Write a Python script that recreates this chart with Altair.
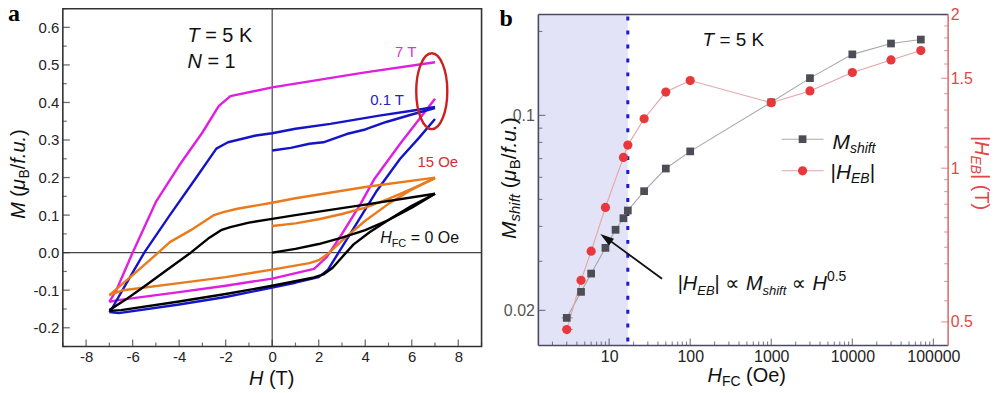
import altair as alt
import pandas as pd

# ================= data: panel a (M-H hysteresis loops) =================
H_7T_down = [7, 4, 0, -1.8, -2.3, -3, -4, -5, -6, -6.7, -7]
M_7T_down = [0.507, 0.48, 0.44, 0.417, 0.39, 0.32, 0.232, 0.135, 0.0, -0.1, -0.131]
H_7T_up = [-7, -6.7, -4, -2, 0, 1.8, 2.35, 3.0, 3.8, 4.4, 5.5, 7]
M_7T_up = [-0.131, -0.127, -0.105, -0.088, -0.069, -0.043, -0.011, 0.05, 0.13, 0.197, 0.29, 0.41]

H_01T_virgin = [0, 0.8, 1.6, 2.2, 3.2, 4.0, 4.9, 6.0, 7.0]
M_01T_virgin = [0.272, 0.279, 0.29, 0.294, 0.316, 0.328, 0.348, 0.368, 0.385]
H_01T_down = [7, 6, 4.6, 2.5, 1, 0, -0.7, -1.9, -2.4, -3.3, -4.4, -5.5, -6.3, -6.9, -7]
M_01T_down = [0.388, 0.378, 0.365, 0.343, 0.33, 0.318, 0.312, 0.294, 0.277, 0.197, 0.1, 0.0, -0.085, -0.15, -0.158]
H_01T_up = [-7, -6.6, -4, -2, 0, 1, 2, 2.4, 2.8, 3.5, 4.5, 5.5, 6.3, 7]
M_01T_up = [-0.158, -0.161, -0.138, -0.118, -0.093, -0.08, -0.065, -0.045, -0.005, 0.065, 0.165, 0.25, 0.305, 0.356]

H_15Oe_virgin = [0, 1, 2, 3, 4, 5, 6, 7]
M_15Oe_virgin = [0.071, 0.078, 0.089, 0.103, 0.12, 0.143, 0.17, 0.198]
H_15Oe_down = [7, 4, 1, 0, -1.5, -2.1, -2.5, -3.5, -4.4, -4.9, -6, -7]
M_15Oe_down = [0.2, 0.175, 0.145, 0.133, 0.117, 0.108, 0.1, 0.06, 0.028, 0.0, -0.06, -0.113]
H_15Oe_up = [-7, -6.4, -4, -2, 0, 1.6, 2.0, 2.4, 3, 4, 5, 6, 7]
M_15Oe_up = [-0.113, -0.1, -0.081, -0.065, -0.045, -0.028, -0.02, -0.003, 0.032, 0.085, 0.13, 0.168, 0.2]

H_0Oe_virgin = [0, 1, 2, 3, 4, 5, 6, 7]
M_0Oe_virgin = [0.0, 0.01, 0.023, 0.04, 0.06, 0.087, 0.12, 0.157]
H_0Oe_down = [7, 4, 1, 0, -1, -1.8, -2.2, -2.7, -3.5, -4.5, -5.5, -6.3, -7]
M_0Oe_down = [0.157, 0.128, 0.1, 0.09, 0.08, 0.068, 0.06, 0.04, 0.0, -0.045, -0.09, -0.125, -0.153]
H_0Oe_up = [-7, -6.5, -4, -2, 0, 1.8, 2.2, 2.6, 3.0, 3.5, 4.2, 5.2, 6, 7]
M_0Oe_up = [-0.155, -0.153, -0.13, -0.11, -0.088, -0.066, -0.058, -0.04, -0.012, 0.022, 0.055, 0.095, 0.125, 0.157]

ELLIPSE_H = [6.86]
ELLIPSE_M = [0.43]

A_XTICKS = [-8, -6, -4, -2, 0, 2, 4, 6, 8]
A_XMINOR = [-9, -7, -5, -3, -1, 1, 3, 5, 7, 9]
A_YTICKS = [-0.2, -0.1, 0.0, 0.1, 0.2, 0.3, 0.4, 0.5, 0.6]
A_YMINOR = [-0.25, -0.15, -0.05, 0.05, 0.15, 0.25, 0.35, 0.45, 0.55, 0.65]

# ================= data: panel b =================
HFC_M = [3, 4.5, 6, 9, 12, 15, 17, 27, 50, 100, 1000, 3000, 10000, 30000, 70000]
M_SHIFT = [0.0188, 0.0233, 0.0271, 0.0335, 0.0389, 0.0428, 0.0456, 0.0535, 0.0645,
           0.0743, 0.1114, 0.136, 0.1655, 0.181, 0.187]
HFC_E = [3, 4.5, 6, 9, 15, 17, 27, 50, 100, 1000, 3000, 10000, 30000, 70000]
H_EB = [0.483, 0.603, 0.688, 0.838, 1.05, 1.11, 1.25, 1.41, 1.485, 1.344, 1.417, 1.54, 1.63, 1.70]
ERR_LO = [2.6]
ERR_HI = [3.55]
SHADE_LO = [1.34]
SHADE_HI = [17]

B_XTICKS = [10, 100, 1000, 10000, 100000]
B_XMINOR = [m * 10 ** e for e in range(0, 5) for m in range(2, 10)]
B_LTICKS = [0.02, 0.1]
B_LMINOR = [0.03, 0.04, 0.05, 0.06, 0.07, 0.08, 0.09, 0.2]
B_RTICKS = [0.5, 1.0, 1.5, 2.0]
B_RMINOR = [0.55, 0.6, 0.65, 0.7, 0.75, 0.8, 0.85, 0.9, 0.95, 1.1, 1.2, 1.3, 1.4, 1.6, 1.7, 1.8, 1.9]

# ================= styling helpers =================
FONT = "Liberation Sans, Arial, DejaVu Sans, sans-serif"
SERIF = "Liberation Serif, Times New Roman, serif"
DUMMY = pd.DataFrame({"d": [0]})
WIDTHS = {" ": 278, "(": 333, ")": 333, ".": 278, "/": 278, "=": 584, "|": 260,
          "B": 667, "C": 722, "E": 667, "F": 611, "H": 722, "K": 667, "M": 833,
          "N": 722, "O": 778, "T": 611, "e": 556, "f": 278, "h": 556, "i": 222,
          "s": 500, "t": 278, "u": 556, "\u03bc": 576, "\u221d": 760}


def tw(s, size):
    return sum(WIDTHS.get(c, 556) for c in s) * size / 1000.0


def rich(pieces, x0, y0, angle=0, color="#111111", anchor="start"):
    total = sum(tw(t, s) for t, s, _, _ in pieces)
    pos = -total / 2.0 if anchor == "middle" else 0.0
    out = []
    for t, s, it, sh in pieces:
        lead = len(t) - len(t.lstrip(" "))
        p = pos + lead * tw(" ", s)
        if angle == 0:
            x, y = x0 + p, y0 + sh
        elif angle == 270:
            x, y = x0 + sh, y0 - p
        else:
            x, y = x0 - sh, y0 + p
        out.append(
            alt.Chart(DUMMY).mark_text(
                text=t.strip(), font=FONT, fontSize=s,
                fontStyle="italic" if it else "normal", color=color,
                align="left", baseline="alphabetic", angle=angle,
            ).encode(x=alt.value(x), y=alt.value(y))
        )
        pos += tw(t, s)
    return out


def vals(name, v):
    return pd.DataFrame({name: v})


# ================= panel a =================
WA, HA = 420, 339
FRAME_A = "#333333"
xa = alt.Scale(domain=[-9, 9], nice=False, zero=False)
ya = alt.Scale(domain=[-0.25, 0.65], nice=False, zero=False)

ax_xa = alt.Axis(values=A_XTICKS, ticks=False, domain=False, grid=False, tickSize=0,
                 labelFont=FONT, labelFontSize=15, labelColor="#222222", labelPadding=3,
                 labelExpr="datum.value < 0 ? '-' + format(-datum.value, 'd') : format(datum.value, 'd')")
ax_ya = alt.Axis(values=A_YTICKS, ticks=False, domain=False, grid=False, tickSize=0,
                 labelFont=FONT, labelFontSize=15, labelColor="#222222", labelPadding=4,
                 labelExpr="datum.value < -0.0001 ? '-' + format(-datum.value, '.1f') : format(abs(datum.value), '.1f')")


def loop_layer(H, M, color):
    df = pd.DataFrame({"H": H, "M": M, "i": list(range(len(H)))})
    return alt.Chart(df).mark_line(color=color, strokeWidth=2.4, strokeJoin="round").encode(
        x=alt.X("H:Q", scale=xa, axis=None),
        y=alt.Y("M:Q", scale=ya, axis=None),
        order="i:Q",
    )


MAG, BLU, ORA, BLK = "#e01ee0", "#1414c8", "#ea7a1c", "#000000"

a_layers = [
    # zero lines, which also carry the axis labels
    alt.Chart(vals("z", [0])).mark_rule(color="#444444", strokeWidth=1.2).encode(
        x=alt.X("z:Q", scale=xa, axis=ax_xa, title=None)),
    alt.Chart(vals("z", [0])).mark_rule(color="#444444", strokeWidth=1.2).encode(
        y=alt.Y("z:Q", scale=ya, axis=ax_ya, title=None)),
    loop_layer(H_7T_down, M_7T_down, MAG),
    loop_layer(H_7T_up, M_7T_up, MAG),
    loop_layer(H_01T_virgin, M_01T_virgin, BLU),
    loop_layer(H_01T_down, M_01T_down, BLU),
    loop_layer(H_01T_up, M_01T_up, BLU),
    loop_layer(H_15Oe_virgin, M_15Oe_virgin, ORA),
    loop_layer(H_15Oe_down, M_15Oe_down, ORA),
    loop_layer(H_15Oe_up, M_15Oe_up, ORA),
    loop_layer(H_0Oe_virgin, M_0Oe_virgin, BLK),
    loop_layer(H_0Oe_down, M_0Oe_down, BLK),
    loop_layer(H_0Oe_up, M_0Oe_up, BLK),
    alt.Chart(pd.DataFrame({"H": ELLIPSE_H, "M": ELLIPSE_M})).mark_point(
        shape="M -0.41 0 A 0.41 1 0 1 0 0.41 0 A 0.41 1 0 1 0 -0.41 0 Z",
        size=5776, filled=False, color="#cc1f1f", strokeWidth=2.4, opacity=1,
    ).encode(x=alt.X("H:Q", scale=xa, axis=None), y=alt.Y("M:Q", scale=ya, axis=None)),
    # ticks (inward)
    alt.Chart(vals("v", A_YTICKS)).mark_tick(orient="horizontal", size=7, thickness=1.3, color=FRAME_A).encode(
        y=alt.Y("v:Q", scale=ya, axis=None), x=alt.value(3.5)),
    alt.Chart(vals("v", A_YMINOR)).mark_tick(orient="horizontal", size=4, thickness=1.2, color=FRAME_A).encode(
        y=alt.Y("v:Q", scale=ya, axis=None), x=alt.value(2)),
    alt.Chart(vals("v", A_XTICKS)).mark_tick(orient="vertical", size=7, thickness=1.3, color=FRAME_A).encode(
        x=alt.X("v:Q", scale=xa, axis=None), y=alt.value(HA - 3.5)),
    alt.Chart(vals("v", A_XMINOR)).mark_tick(orient="vertical", size=4, thickness=1.2, color=FRAME_A).encode(
        x=alt.X("v:Q", scale=xa, axis=None), y=alt.value(HA - 2)),
    # frame
    alt.Chart(DUMMY).mark_rect(filled=False, stroke=FRAME_A, strokeWidth=1.6).encode(
        x=alt.value(0), x2=alt.value(WA), y=alt.value(0), y2=alt.value(HA)),
    # panel label
    alt.Chart(DUMMY).mark_text(text="a", font=SERIF, fontSize=24, fontWeight="bold", color="#000000",
                               align="left", baseline="alphabetic").encode(x=alt.value(-55), y=alt.value(12)),
]
a_layers += rich([("T", 20, True, 0), (" = 5 K", 20, False, 0)], 125, 33.7)
a_layers += rich([("N", 20, True, 0), (" = 1", 20, False, 0)], 125, 59.3)
a_layers += rich([("7 T", 15, False, 0)], 333.3, 48.3, color="#dd33dd")
a_layers += rich([("0.1 T", 15, False, 0)], 308.3, 96.3, color="#2424b8")
a_layers += rich([("15 Oe", 15, False, 0)], 355.7, 159.3, color="#cc3333")
a_layers += rich([("H", 16, True, 0), ("FC", 11, False, 4), (" = 0 Oe", 16, False, 0)], 318.3, 235.3)
a_layers += rich([("H", 20, True, 0), (" (T)", 20, False, 0)], 186.7, 377.7)
a_layers += rich([("M", 20, True, 0), (" (", 20, False, 0), ("\u03bc", 20, True, 0), ("B", 14, False, 4),
                  ("/", 20, False, 0), ("f.u.", 20, True, 0), (")", 20, False, 0)],
                 -38, 166, angle=270, anchor="middle")

panel_a = alt.layer(*a_layers).properties(width=WA, height=HA).resolve_axis(x="independent", y="independent")

# ================= panel b =================
WB, HB = 411, 338
TOP = 6  # frame top inside the plot area
FRAME_B = "#4a4a66"
RED_AX = "#e07070"
xb = alt.Scale(type="log", domain=[1.34, 152000], nice=False)
yl = alt.Scale(type="log", domain=[0.01496, 0.2415], nice=False)
yr = alt.Scale(type="log", domain=[0.4494, 2.0546], nice=False)

ax_xb = alt.Axis(values=B_XTICKS, ticks=False, domain=False, grid=False, tickSize=0,
                 labelFont=FONT, labelFontSize=16, labelColor="#222222", labelPadding=3,
                 labelExpr="format(datum.value, 'd')")
ax_yl = alt.Axis(values=B_LTICKS, ticks=False, domain=False, grid=False, tickSize=0,
                 labelFont=FONT, labelFontSize=16, labelColor="#555555", labelPadding=4,
                 labelExpr="format(datum.value, '~g')")
ax_yr = alt.Axis(values=B_RTICKS, orient="right", ticks=False, domain=False, grid=False, tickSize=0,
                 labelFont=FONT, labelFontSize=16, labelColor="#e04848", labelPadding=2,
                 labelExpr="format(datum.value, '~g')")

dfm = pd.DataFrame({"H": HFC_M, "M": M_SHIFT})
dfe = pd.DataFrame({"H": HFC_E, "E": H_EB})
df_err_m = pd.DataFrame({"lo": ERR_LO, "hi": ERR_HI, "v": [M_SHIFT[0]]})
df_err_e = pd.DataFrame({"lo": ERR_LO, "hi": ERR_HI, "v": [H_EB[0]]})

b_layers = [
    alt.Chart(pd.DataFrame({"lo": SHADE_LO, "hi": SHADE_HI})).mark_rect(color="#e3e3f7").encode(
        x=alt.X("lo:Q", scale=xb, axis=ax_xb, title=None), x2="hi:Q", y=alt.value(TOP), y2=alt.value(HB)),
    alt.Chart(pd.DataFrame({"hi": SHADE_HI})).mark_rule(color="#1a1acc", strokeWidth=3, strokeDash=[4, 10]).encode(
        x=alt.X("hi:Q", scale=xb, axis=None), y=alt.value(TOP + 2), y2=alt.value(HB)),
    alt.Chart(df_err_m).mark_rule(color="#8a8a8a", strokeWidth=1).encode(
        x=alt.X("lo:Q", scale=xb, axis=None), x2="hi:Q", y=alt.Y("v:Q", scale=yl, axis=None)),
    alt.Chart(df_err_e).mark_rule(color="#c08080", strokeWidth=1).encode(
        x=alt.X("lo:Q", scale=xb, axis=None), x2="hi:Q", y=alt.Y("v:Q", scale=yr, axis=None)),
    alt.Chart(dfm).mark_line(color="#a8a8a8", strokeWidth=1.1).encode(
        x=alt.X("H:Q", scale=xb, axis=None),
        y=alt.Y("M:Q", scale=yl, axis=ax_yl, title=None)),
    alt.Chart(dfe).mark_line(color="#e3a4a4", strokeWidth=1.1).encode(
        x=alt.X("H:Q", scale=xb, axis=None),
        y=alt.Y("E:Q", scale=yr, axis=ax_yr, title=None)),
    alt.Chart(dfm).mark_point(shape="square", size=60, filled=True, color="#4d4d55", opacity=1).encode(
        x=alt.X("H:Q", scale=xb, axis=None), y=alt.Y("M:Q", scale=yl, axis=None)),
    alt.Chart(dfe).mark_point(shape="circle", size=85, filled=True, color="#e8383c", opacity=1).encode(
        x=alt.X("H:Q", scale=xb, axis=None), y=alt.Y("E:Q", scale=yr, axis=None)),
    # ticks
    alt.Chart(vals("v", B_XTICKS)).mark_tick(orient="vertical", size=7, thickness=1.2, color=FRAME_B).encode(
        x=alt.X("v:Q", scale=xb, axis=None), y=alt.value(HB - 3.5)),
    alt.Chart(vals("v", B_XMINOR)).mark_tick(orient="vertical", size=4, thickness=1.1, color=FRAME_B).encode(
        x=alt.X("v:Q", scale=xb, axis=None), y=alt.value(HB - 2)),
    alt.Chart(vals("v", B_LTICKS)).mark_tick(orient="horizontal", size=7, thickness=1.2, color=FRAME_B).encode(
        y=alt.Y("v:Q", scale=yl, axis=None), x=alt.value(3.5)),
    alt.Chart(vals("v", B_LMINOR)).mark_tick(orient="horizontal", size=4, thickness=1.1, color=FRAME_B).encode(
        y=alt.Y("v:Q", scale=yl, axis=None), x=alt.value(2)),
    alt.Chart(vals("v", B_RTICKS)).mark_tick(orient="horizontal", size=7, thickness=1.2, color=RED_AX).encode(
        y=alt.Y("v:Q", scale=yr, axis=None), x=alt.value(WB - 3.5)),
    alt.Chart(vals("v", B_RMINOR)).mark_tick(orient="horizontal", size=4, thickness=1.1, color=RED_AX).encode(
        y=alt.Y("v:Q", scale=yr, axis=None), x=alt.value(WB - 2)),
    # frame
    alt.Chart(DUMMY).mark_rule(color=FRAME_B, strokeWidth=1.6).encode(
        x=alt.value(0), x2=alt.value(WB), y=alt.value(TOP)),
    alt.Chart(DUMMY).mark_rule(color=FRAME_B, strokeWidth=1.6).encode(
        x=alt.value(0), x2=alt.value(WB), y=alt.value(HB)),
    alt.Chart(DUMMY).mark_rule(color=FRAME_B, strokeWidth=1.6).encode(
        x=alt.value(0), y=alt.value(TOP), y2=alt.value(HB)),
    alt.Chart(DUMMY).mark_rule(color=RED_AX, strokeWidth=1.6).encode(
        x=alt.value(WB), y=alt.value(TOP), y2=alt.value(HB)),
    # legend
    alt.Chart(DUMMY).mark_rule(color="#a8a8a8", strokeWidth=1.1).encode(
        x=alt.value(244), x2=alt.value(286), y=alt.value(131)),
    alt.Chart(DUMMY).mark_point(shape="square", size=60, filled=True, color="#4d4d55", opacity=1).encode(
        x=alt.value(265), y=alt.value(131)),
    alt.Chart(DUMMY).mark_rule(color="#e3a4a4", strokeWidth=1.1).encode(
        x=alt.value(244), x2=alt.value(286), y=alt.value(162.7)),
    alt.Chart(DUMMY).mark_point(shape="circle", size=85, filled=True, color="#e8383c", opacity=1).encode(
        x=alt.value(265), y=alt.value(162.7)),
    # arrow
    alt.Chart(DUMMY).mark_rule(color="#111111", strokeWidth=1.8).encode(
        x=alt.value(124), y=alt.value(271), x2=alt.value(68), y2=alt.value(230)),
    alt.Chart(DUMMY).mark_point(shape="M 0 -1 L 0.6 1 L -0.6 1 Z", size=196, filled=True,
                                color="#111111", opacity=1, angle=306).encode(
        x=alt.value(67.7), y=alt.value(230.1)),
    # panel label
    alt.Chart(DUMMY).mark_text(text="b", font=SERIF, fontSize=24, fontWeight="bold", color="#000000",
                               align="left", baseline="alphabetic").encode(x=alt.value(-39), y=alt.value(17)),
]
b_layers += rich([("T", 19, True, 0), (" = 5 K", 19, False, 0)], 164.7, 37.7)
b_layers += rich([("M", 21, True, 0), ("shift", 14, True, 4)], 295, 141)
b_layers += rich([("|", 21, False, 0), ("H", 21, True, 0), ("EB", 14, True, 4), ("|", 21, False, 0)], 293, 171)
b_layers += rich([("|", 20, False, 0), ("H", 20, True, 0), ("EB", 13, True, 5), ("|", 20, False, 0),
                  (" \u221d ", 20, False, 0), ("M", 20, True, 0), ("shift", 13, True, 5),
                  (" \u221d ", 20, False, 0), ("H", 20, True, 0), ("0.5", 14, False, -9)], 139.7, 282.7)
b_layers += rich([("H", 20, True, 0), ("FC", 14, False, 4), (" (Oe)", 20, False, 0)], 169.7, 375)
b_layers += rich([("M", 21, True, 0), ("shift", 15, True, 4), (" (", 21, False, 0), ("\u03bc", 21, True, 0),
                  ("B", 15, False, 4), ("/", 21, False, 0), ("f.u.", 21, True, 0), (")", 21, False, 0)],
                 -22, 231, angle=270)
b_layers += rich([("|", 20, False, 0), ("H", 20, True, 0), ("EB", 14, True, 4), ("|", 20, False, 0),
                  (" (T)", 20, False, 0)], 438, 127.7, angle=90, color="#e04848")

panel_b = alt.layer(*b_layers).properties(width=WB, height=HB).resolve_scale(
    y="independent").resolve_axis(x="independent")

chart = alt.hconcat(panel_a, panel_b, spacing=57, bounds="flush").properties(
    padding={"left": 0, "top": -7, "right": 0, "bottom": 0}
).configure_view(strokeOpacity=0)

chart.save("out.html", embed_options={"renderer": "svg", "actions": False})
